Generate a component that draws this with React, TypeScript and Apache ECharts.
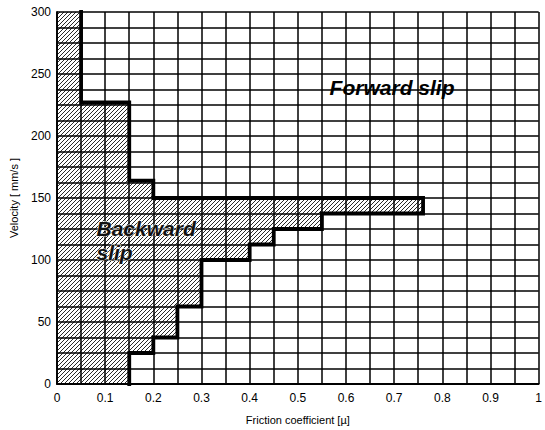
import React, { useEffect, useRef } from "react";
import * as echarts from "echarts";

// Staircase boundary between backward slip (left, hatched) and forward slip (right)
const boundaryMu = [0.05, 0.05, 0.15, 0.15, 0.2, 0.2, 0.76, 0.76, 0.55, 0.55, 0.45, 0.45, 0.4, 0.4, 0.3, 0.3, 0.25, 0.25, 0.2, 0.2, 0.15, 0.15];
const boundaryVel = [300, 227, 227, 164, 164, 150, 150, 137.5, 137.5, 125, 125, 112.5, 112.5, 100, 100, 62.5, 62.5, 37.5, 37.5, 25, 25, 0];

// region corners closing the backward-slip polygon along the axes
const cornerMu = [0.15, 0, 0];
const cornerVel = [0, 0, 300];

const xLabels = ["0", "0.1", "0.2", "0.3", "0.4", "0.5", "0.6", "0.7", "0.8", "0.9", "1"];

const forwardLabel = { mu: 0.566, vel: 239, text: "Forward slip" };
const backwardLabel = { mu: 0.082, vel: 116, text: "Backward\nslip" };

function makeHatch(): HTMLCanvasElement {
  const s = 4;
  const c = document.createElement("canvas");
  c.width = s;
  c.height = s;
  const ctx = c.getContext("2d")!;
  ctx.fillStyle = "#ffffff";
  ctx.fillRect(0, 0, s, s);
  ctx.strokeStyle = "#2a2a2a";
  ctx.lineWidth = 1;
  ctx.beginPath();
  ctx.moveTo(0, s);
  ctx.lineTo(s, 0);
  ctx.moveTo(-1, 1);
  ctx.lineTo(1, -1);
  ctx.moveTo(s - 1, s + 1);
  ctx.lineTo(s + 1, s - 1);
  ctx.stroke();
  return c;
}

export default function App() {
  const ref = useRef<HTMLDivElement>(null);
  useEffect(() => {
    if (!ref.current) return;
    const chart = echarts.init(ref.current, undefined, { renderer: "svg" });
    const hatch = makeHatch();
    const boundary = boundaryMu.map((m, i) => [m, boundaryVel[i]]);
    const region = boundary.concat(cornerMu.map((m, i) => [m, cornerVel[i]]).slice(1));
    const gridLine = { color: "#000000", width: 1.5 };
    const font = "Liberation Sans";
    const labelCommon = {
      show: true,
      position: "right",
      distance: 0,
      fontFamily: font,
      fontSize: 21,
      fontWeight: "bold",
      fontStyle: "italic",
      color: "#000",
    };
    chart.setOption({
      animation: false,
      backgroundColor: "#ffffff",
      grid: { left: 56, right: 3, top: 12, bottom: 45, containLabel: false, show: false },
      xAxis: {
        type: "value",
        min: 0,
        max: 1,
        interval: 0.1,
        z: 5,
        name: "Friction coefficient [µ]",
        nameLocation: "middle",
        nameGap: 30,
        nameTextStyle: { fontFamily: font, fontSize: 11, color: "#000" },
        axisLine: { show: true, lineStyle: { color: "#000", width: 1.8 } },
        axisTick: { show: false },
        axisLabel: {
          fontFamily: font,
          fontSize: 12,
          color: "#000",
          margin: 8,
          formatter: (v: number) => xLabels[Math.round(v * 10)] ?? String(v),
        },
        splitLine: { show: true, lineStyle: gridLine },
        minorTick: { show: false, splitNumber: 2 },
        minorSplitLine: { show: true, lineStyle: gridLine },
      },
      yAxis: {
        type: "value",
        min: 0,
        max: 300,
        interval: 50,
        z: 5,
        name: "Velocity [ mm/s ]",
        nameLocation: "middle",
        nameGap: 38,
        nameTextStyle: { fontFamily: font, fontSize: 11, color: "#000" },
        axisLine: { show: true, lineStyle: { color: "#000", width: 1.8 } },
        axisTick: { show: false },
        axisLabel: { fontFamily: font, fontSize: 12, color: "#000", margin: 6 },
        splitLine: { show: true, lineStyle: gridLine },
        minorTick: { show: false, splitNumber: 4 },
        minorSplitLine: { show: true, lineStyle: gridLine },
      },
      series: [
        {
          type: "custom",
          coordinateSystem: "cartesian2d",
          z: 2,
          silent: true,
          data: region,
          encode: { x: 0, y: 1 },
          renderItem: (params: any, api: any) => {
            if (params.dataIndex !== 0) return null;
            const pts = region.map((p) => api.coord(p));
            return {
              type: "polygon",
              shape: { points: pts },
              style: {
                fill: { image: hatch, repeat: "repeat", imageWidth: 4, imageHeight: 4 },
                stroke: "none",
              },
            };
          },
        },
        {
          type: "line",
          data: boundary,
          z: 10,
          symbol: "none",
          silent: true,
          lineStyle: { color: "#000", width: 3.8, join: "miter", cap: "square" },
        },
        {
          type: "scatter",
          z: 12,
          symbolSize: 0,
          silent: true,
          itemStyle: { opacity: 1 },
          data: [[forwardLabel.mu, forwardLabel.vel]],
          label: { ...labelCommon, formatter: forwardLabel.text },
        },
        {
          type: "scatter",
          z: 12,
          symbolSize: 0,
          silent: true,
          itemStyle: { opacity: 1 },
          data: [[backwardLabel.mu, backwardLabel.vel]],
          label: {
            ...labelCommon,
            formatter: backwardLabel.text,
            lineHeight: 24,
            color: "#111",
            textBorderColor: "#ffffff",
            textBorderWidth: 1,
          },
        },
      ],
    });
    return () => chart.dispose();
  }, []);
  return (
    <div
      ref={ref}
      style={{ position: "absolute", left: 0, top: 0, width: 545, height: 430 }}
    />
  );
}
